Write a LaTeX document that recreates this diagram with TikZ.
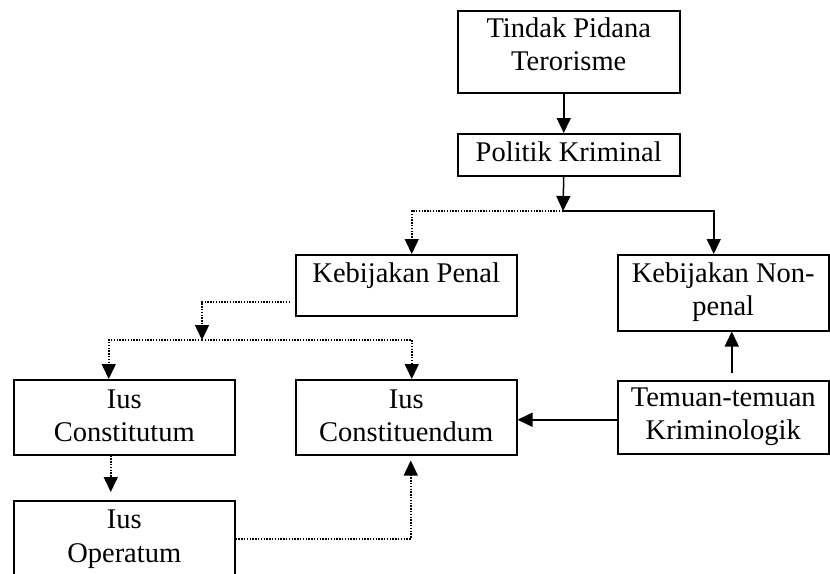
\documentclass[tikz,border=0pt]{standalone}
\usepackage{fontspec}
\setmainfont{Liberation Serif}
\usetikzlibrary{arrows.meta,calc}
\tikzset{
  boxnode/.style={draw, line width=1.5pt, inner xsep=0pt, inner ysep=0pt, align=center, anchor=north west,
    font=\fontsize{28.5}{33.5}\selectfont},
  solidarrow/.style={line width=1.5pt, -{Triangle[length=15pt,width=14pt]}},
  dotline/.style={line width=1.5pt, dash pattern=on 1.4pt off 1.4pt},
  dotarrow/.style={dotline, -{Triangle[length=15pt,width=14pt]}}
}
\begin{document}
\begin{tikzpicture}[x=1pt,y=-1pt]
\path[use as bounding box, clip] (0,0) rectangle (830,573);
\fill[white] (0,0) rectangle (830,573);

\node[boxnode, minimum width=222pt, text height=60.2pt, text depth=21.8pt] (T) at (457,10) {Tindak Pidana\\Terorisme};
\node[boxnode, minimum width=222pt, text height=28pt, text depth=14pt] (P) at (457,133) {Politik Kriminal};
\node[boxnode, minimum width=221pt, text height=28pt, text depth=33pt] (KP) at (295,254) {Kebijakan Penal};
\node[boxnode, minimum width=211pt, text height=61.2pt, text depth=14.8pt] (KNP) at (617,254) {Kebijakan Non-\\penal};
\node[boxnode, minimum width=221pt, text height=62.2pt, text depth=12.8pt] (IC1) at (13,379) {Ius\\Constitutum};
\node[boxnode, minimum width=221pt, text height=62.2pt, text depth=12.8pt] (IC2) at (295,379) {Ius\\Constituendum};
\node[boxnode, minimum width=211pt, text height=59.2pt, text depth=13.8pt] (Tm) at (617,380) {Temuan-temuan\\Kriminologik};
\node[boxnode, minimum width=221pt, text height=61.5pt, text depth=26.5pt] (IO) at (13,500) {Ius\\Operatum};

\coordinate (J1) at (563,211);
\coordinate (J2) at (202,340);

\draw[solidarrow] ($(T.south)+(-5,0)$) -- ($(P.north)+(-5,0)$);
\draw[solidarrow] ($(P.south)+(-5,0)$) -- (J1);
\draw[dotarrow] (J1) -| ($(KP.north)+(5.5,0)$);
\draw[solidarrow] (J1) -| ($(KNP.north)+(-9.5,0)$);
\draw[solidarrow] ($(Tm.north)+(8.5,-7)$) -- ($(KNP.south)+(8.5,0)$);
\draw[solidarrow] ($(Tm.west)+(0,2.5)$) -- ($(IC2.east)+(0,2.5)$);
\draw[dotarrow] ($(KP.west)+(-5,16.5)$) -| (J2);
\draw[dotarrow] (J2) -| ($(IC1.north)+(-15.5,0)$);
\draw[dotarrow] (J2) -| ($(IC2.north)+(5.5,0)$);
\draw[dotarrow] ($(IC1.south)+(-13.5,0)$) -- ($(IO.north)+(-13.5,-8)$);
\draw[dotarrow] ($(IO.east)+(0,-6)$) -| ($(IC2.south)+(4.5,5)$);
\end{tikzpicture}
\end{document}
